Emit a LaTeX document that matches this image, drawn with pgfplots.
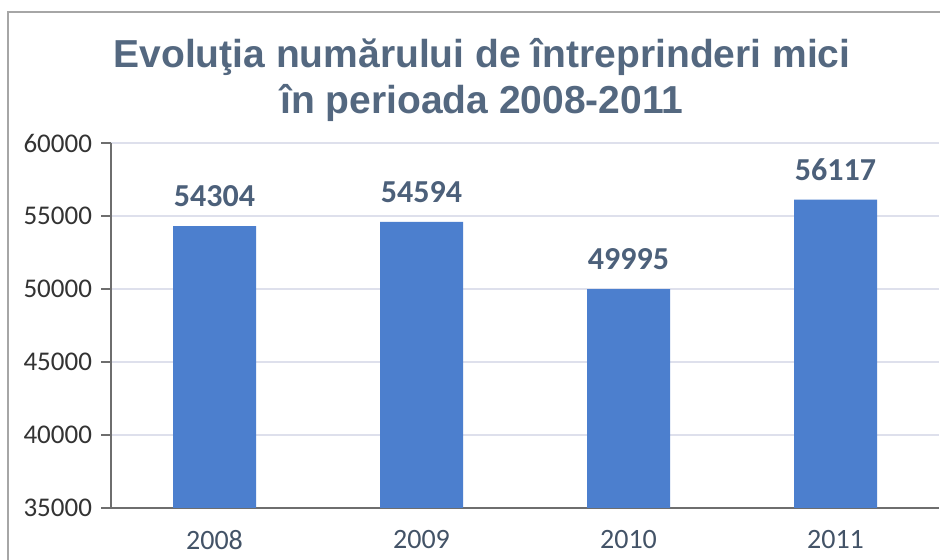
\documentclass[border=0pt]{standalone}
\usepackage{fontspec}
\setmainfont{Liberation Sans}
\newfontfamily\carlito{Carlito}
\usepackage{pgfplots}
\pgfplotsset{compat=1.18}
\definecolor{barblue}{RGB}{76,127,206}
\definecolor{titlecol}{RGB}{84,104,128}
\definecolor{labcol}{RGB}{76,96,122}
\definecolor{gridcol}{RGB}{222,224,236}
\definecolor{axcol}{RGB}{110,110,110}
\begin{document}
\begin{tikzpicture}[x=1pt,y=1pt]
\path[use as bounding box,fill=white] (0,0) rectangle (470,280);
\draw[gray!70,line width=0.6pt] (4,0) -- (4,274) -- (470,274);
\node[font=\bfseries\fontsize{19.5}{22}\selectfont,text=titlecol,align=center] at (241,240)
  {Evoluţia numărului de întreprinderi mici\\[1pt]în perioada 2008-2011};
\begin{axis}[
  at={(55.5pt,26pt)}, anchor=south west,
  scale only axis, width=414pt, height=182.5pt,
  xmin=-0.5, xmax=3.5, ymin=35000, ymax=60000,
  axis lines*=left, axis line style={axcol,line width=0.6pt,-},
  xtick={0,1,2,3}, xticklabels={2008,2009,2010,2011},
  x tick style={draw=none},
  extra x ticks={-0.5,0.5,1.5,2.5,3.5}, extra x tick labels={},
  extra x tick style={grid=none, tick style={draw=axcol,line width=0.6pt}, major tick length=5pt, tick align=outside},
  ytick={35000,40000,45000,50000,55000,60000},
  y tick style={draw=axcol,line width=0.6pt}, major tick length=5pt, tick align=outside,
  ymajorgrids, grid style={gridcol,line width=0.6pt},
  /pgf/number format/assume math mode=true,
  scaled y ticks=false,
  yticklabel style={/pgf/number format/1000 sep={}, font=\carlito\fontsize{13.5}{15}\selectfont, text=black!80, xshift=-1pt},
  xticklabel style={font=\carlito\fontsize{14}{15}\selectfont, text=titlecol!80!black, yshift=-5pt, inner sep=1pt},
  ybar, bar width=41.5pt,
  nodes near coords,
  every node near coord/.append style={font=\carlito\bfseries\fontsize{16}{18}\selectfont, text=labcol, yshift=6pt, /pgf/number format/1000 sep={}},
  clip=false,
]
\addplot[fill=barblue, draw=none] coordinates {(0,54304) (1,54594) (2,49995) (3,56117)};
\end{axis}
\end{tikzpicture}
\end{document}
